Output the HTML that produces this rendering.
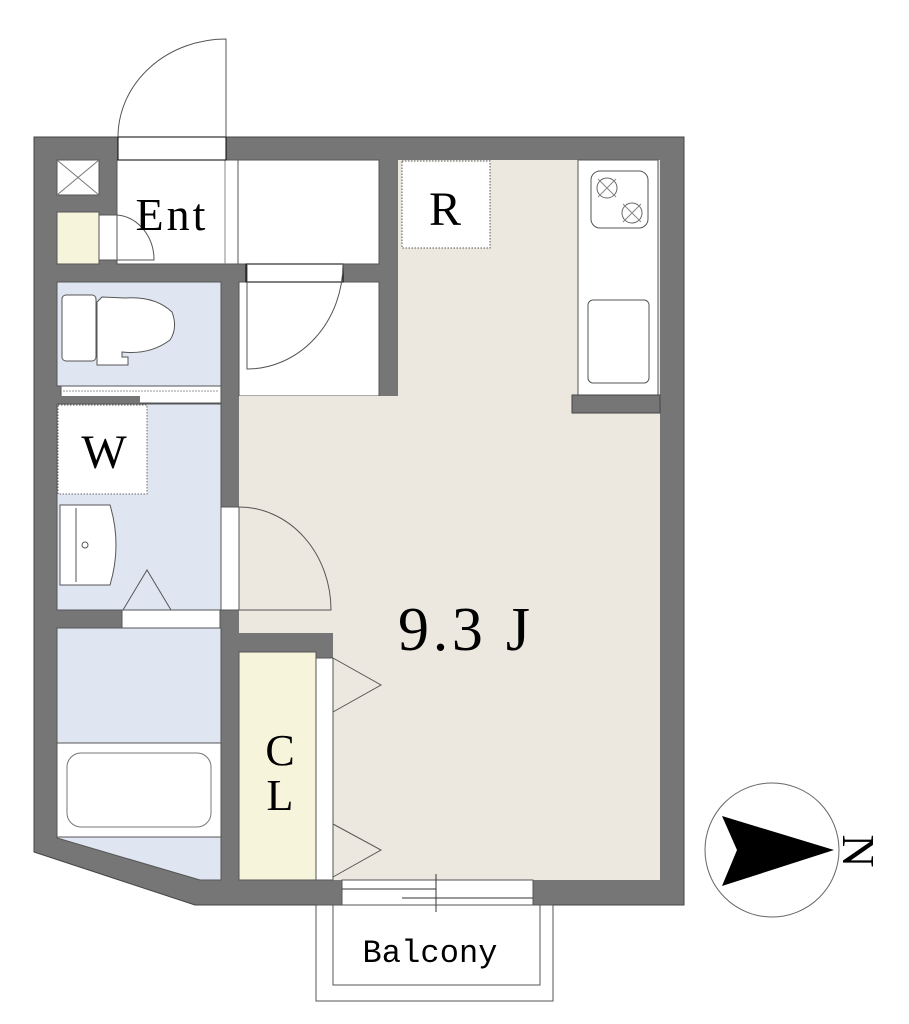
<!DOCTYPE html>
<html><head><meta charset="utf-8"><style>
html,body{margin:0;padding:0;background:#fff;width:909px;height:1024px;overflow:hidden}
svg{display:block}
text{font-family:"Liberation Serif",serif;fill:#000}
</style></head><body>
<svg width="909" height="1024" viewBox="0 0 909 1024" xmlns="http://www.w3.org/2000/svg">
<polygon points="34,137 684,137 684,905 195,905 34,852" fill="#767676" stroke="#444" stroke-width="1"/>
<g stroke="#555" stroke-width="1">
<rect x="57" y="160" width="42" height="35" fill="#fff"/>
<line x1="57" y1="160" x2="99" y2="195" stroke="#777"/><line x1="99" y1="160" x2="57" y2="195" stroke="#777"/>
<rect x="57" y="212" width="42" height="52" fill="#f7f4dc"/>
<rect x="99" y="215" width="18" height="45" fill="#fff"/>
<rect x="117" y="160" width="262" height="104" fill="#fff"/>
<line x1="225" y1="160" x2="225" y2="264" stroke="#888"/>
<line x1="238" y1="160" x2="238" y2="264"/>
<rect x="118" y="137" width="108" height="23" fill="#fff" stroke="#000"/>
<rect x="239" y="282" width="140" height="114" fill="#fff"/>
<rect x="246" y="264" width="97" height="18" fill="#fff" stroke="#000"/>
<polygon points="398,160 660,160 660,880 333,880 333,652 333,633 239,633 239,396 398,396" fill="#ece8df" stroke="none"/>
<rect x="578" y="160" width="80" height="235" fill="#fff"/>
<rect x="572" y="395" width="88" height="18" fill="#767676" stroke="#444"/>
<rect x="239" y="633" width="94" height="19" fill="#767676" stroke="none"/>
<rect x="402" y="161" width="88" height="87" fill="#fff" stroke="#555" stroke-dasharray="1.5,1.5"/>
<rect x="591" y="171" width="57" height="57" rx="9" fill="#fff"/>
<circle cx="607" cy="188" r="10" fill="none" stroke="#666"/><circle cx="632" cy="213" r="10" fill="none" stroke="#666"/>
<path d="M598,179 L616,197 M616,179 L598,197 M623,204 L641,222 M641,204 L623,222" stroke="#888"/>
<rect x="588" y="300" width="61" height="83" rx="5" fill="#fff"/>
<rect x="57" y="282" width="164" height="104" fill="#dfe6f2"/>
<rect x="61" y="386" width="160" height="17" fill="#fff"/>
<line x1="63" y1="391" x2="219" y2="391" stroke="#999" stroke-dasharray="2,1"/>
<rect x="57" y="396" width="83" height="8" fill="#767676" stroke="none"/>
<rect x="62" y="295" width="34" height="66" rx="4" fill="#fff"/>
<path d="M97,302 L97,365 L128,365 L128,357 L122,357 L122,352 Q150,355 170,340 Q178,328 172,312 Q155,296 125,298 L102,297 Z" fill="#fff"/>
<rect x="57" y="404" width="164" height="206" fill="#dfe6f2"/>
<rect x="58" y="405" width="89" height="89" fill="#fff" stroke="#666" stroke-dasharray="1.5,1.5"/>
<path d="M60,505 L110,505 Q122,545 110,585 L60,585 Z" fill="#fff"/>
<line x1="76" y1="508" x2="76" y2="582"/>
<circle cx="85" cy="545" r="3" fill="#fff"/>
<path d="M123,610 L147,570 L171,610" fill="none"/>
<rect x="122" y="610" width="98" height="18" fill="#fff"/>
<rect x="221" y="507" width="18" height="103" fill="#fff"/>
<path d="M239,507 A92,103 0 0 1 331,610 L239,610" fill="none" stroke="#555"/>
<polygon points="57,628 221,628 221,880 200,880 57,838" fill="#dfe6f2"/>
<rect x="57" y="743" width="164" height="94" fill="#fff"/>
<rect x="67" y="753" width="144" height="74" rx="14" fill="#fff" stroke="#777"/>
<rect x="239" y="652" width="77" height="228" fill="#f7f4dc"/>
<rect x="316" y="658" width="17" height="222" fill="#fff"/>
<path d="M333,658 L381,685 L333,712 M333,824 L381,850 L333,877" fill="none"/>
<rect x="342" y="880" width="191" height="25" fill="#fff"/>
<path d="M342,889 L436,889 M402,898 L533,898 M436,874 L436,912" stroke="#333"/>
<rect x="316" y="905" width="237" height="96" fill="none"/>
<rect x="333" y="905" width="207" height="80" fill="none"/>
<path d="M226,137 L226,39 A108,98 0 0 0 118,137" fill="none"/>
<path d="M247,264 L247,369 A96,105 0 0 0 343,264" fill="none"/>
<path d="M117,215 A40,45 0 0 1 154,260 L117,260" fill="none"/>
<circle cx="772" cy="850" r="67" fill="#fff" stroke="#666"/>
</g>
<polygon points="722,816 834,850 722,886 737,850" fill="#000"/>
<text x="445" y="225" font-size="48" text-anchor="middle">R</text>
<text x="172" y="230" font-size="46" text-anchor="middle" letter-spacing="3">Ent</text>
<text x="104" y="468" font-size="48" text-anchor="middle">W</text>
<text x="398" y="650" font-size="62" textLength="132" lengthAdjust="spacing">9.3 J</text>
<text x="280" y="765" font-size="44" text-anchor="middle">C</text>
<text x="280" y="810" font-size="44" text-anchor="middle">L</text>
<text x="430" y="962" font-size="32" text-anchor="middle" style="font-family:'Liberation Mono',monospace" textLength="135">Balcony</text>
<text x="0" y="0" font-size="46" text-anchor="middle" transform="translate(843,851) rotate(90)">N</text>
</svg>
</body></html>
